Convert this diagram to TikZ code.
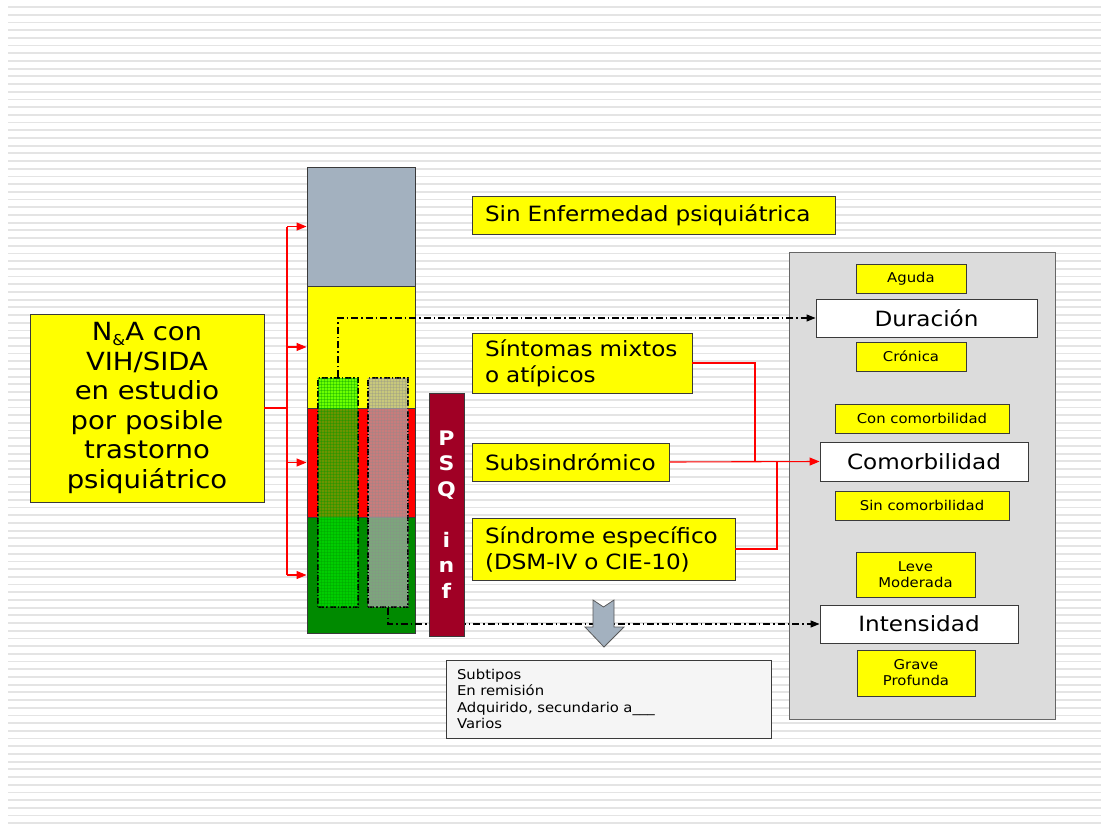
\documentclass[tikz,border=0pt]{standalone}
\usepackage{fontspec}
\setmainfont{DejaVu Sans}[FakeStretch=1.1]
\usetikzlibrary{arrows.meta,patterns}
\pgfdeclarelayer{fg}
\pgfsetlayers{main,fg}
\definecolor{ylw}{HTML}{FFFF00}
\definecolor{slate}{HTML}{A3B1BF}
\definecolor{colred}{HTML}{FF0000}
\definecolor{colgreen}{HTML}{008A00}
\definecolor{maroon}{HTML}{A00025}
\definecolor{panel}{HTML}{DCDCDC}
\definecolor{stripe}{HTML}{E4E4E4}
\definecolor{edge}{HTML}{3A3A3A}
\tikzset{
  box/.style={draw=edge, line width=0.9pt, inner sep=0pt, text=black},
  ybox/.style={box, fill=ylw},
  wbox/.style={box, fill=white, font=\fontsize{21}{24}\selectfont},
  small/.style={ybox, font=\fontsize{13.5}{16}\selectfont, align=center},
  seg/.style={box, minimum width=108, line width=0.9pt},
  hbar/.style={draw=black, line width=1.4pt, dash pattern=on 6pt off 2pt on 1.5pt off 2pt, minimum width=40, minimum height=229, inner sep=0pt},
  redline/.style={draw=colred, line width=1.1pt},
  redarr/.style={redline, -{Triangle[length=10pt,width=8pt]}},
  dd/.style={draw=black, line width=1.1pt, dash pattern=on 7pt off 3pt on 1.5pt off 3pt},
  ddarr/.style={dd, -{Triangle[length=9pt,width=7pt]}},
}
\begin{document}
\begin{tikzpicture}[x=1pt,y=-1pt]
\useasboundingbox[fill=white] (0,0) rectangle (1101,825);
% background stripes
\foreach \i in {0,...,106}{
  \draw[stripe, line width=1.8pt] (8,{7+7.7*\i}) -- (1101,{7+7.7*\i});
}
% left box
\node[ybox, minimum width=234, minimum height=188, align=center,
      font=\fontsize{25}{29.6}\selectfont] (na) at (147,408)
  {N\raisebox{-0.35ex}{\fontsize{15}{15}\selectfont\&}A con\\VIH/SIDA\\en estudio\\por posible\\trastorno\\psiqui\'atrico};
% column segments
\node[seg, fill=slate, minimum height=119] (gtop) at (361,226.5) {};
\node[seg, fill=ylw, minimum height=122] (yseg) at (361,347) {};
\node[seg, fill=colred, minimum height=109] (rseg) at (361,462.5) {};
\node[seg, fill=colgreen, minimum height=116] (gseg) at (361,575) {};
% hatched bars
\node[hbar, fill=green, fill opacity=0.58] (gbar) at (338,492.5) {};
\fill[pattern=grid, pattern color=green!60!black, opacity=0.35] (gbar.north west) rectangle (gbar.south east);
\node[hbar, fill=black!30, fill opacity=0.7] (gybar) at (388,492.5) {};
\fill[pattern=grid, pattern color=black!45, opacity=0.3] (gybar.north west) rectangle (gybar.south east);
% PSQ inf
\begin{pgfonlayer}{fg}
\node[box, fill=maroon, minimum width=35, minimum height=243, text=white, align=center,
      font=\fontsize{20}{25.5}\selectfont\bfseries] (psq) at (446.5,514.5)
  {P\\S\\Q\\[25.5pt]i\\n\\f};
% down arrow
\draw[fill=slate, draw=black!65, line width=0.8pt]
  (593,600) -- (603.5,607) -- (614,600) -- (614,627) -- (624,627) -- (604,647)
  -- (585,627) -- (593,627) -- cycle;
\end{pgfonlayer}
% right yellow boxes
\node[ybox, minimum height=38, text width=337, inner xsep=13, align=left,
      font=\fontsize{21}{26}\selectfont] (sinenf) at (653.5,215) {Sin Enfermedad psiqui\'atrica};
\node[ybox, minimum height=60, text width=194, inner xsep=13, align=left,
      font=\fontsize{21}{26}\selectfont] (sint) at (582,363) {S\'intomas mixtos\\o at\'ipicos};
\node[ybox, minimum height=38, text width=171, inner xsep=13, align=left,
      font=\fontsize{21}{26}\selectfont] (sub) at (570.5,462) {Subsindr\'omico};
\node[ybox, minimum height=62, text width=237, inner xsep=13, align=left,
      font=\fontsize{21}{26}\selectfont] (sind) at (603.5,549) {S\'indrome espec\'ifico\\(DSM-IV o CIE-10)};
% panel
\node[box, fill=panel, draw=black!60, minimum width=266, minimum height=467] (panel) at (922,485.5) {};
\node[small, minimum width=110, minimum height=29] (aguda) at (911,278.5) {Aguda};
\node[wbox, minimum width=221, minimum height=38] (dur) at (926.5,318) {Duraci\'on};
\node[small, minimum width=110, minimum height=29] (cron) at (911,356.5) {Cr\'onica};
\node[small, minimum width=174, minimum height=29] (conc) at (922,418.5) {Con comorbilidad};
\node[wbox, minimum width=208, minimum height=39] (comor) at (924,461.5) {Comorbilidad};
\node[small, minimum width=174, minimum height=29] (sinc) at (922,505.5) {Sin comorbilidad};
\node[small, minimum width=119, minimum height=45] (leve) at (915.5,574.5) {Leve\\Moderada};
\node[wbox, minimum width=198, minimum height=38] (inten) at (919,624) {Intensidad};
\node[small, minimum width=118, minimum height=46] (grave) at (916,673) {Grave\\Profunda};
% bottom box
\node[box, fill=black!4, minimum height=78, text width=303, inner xsep=11, align=left,
      font=\fontsize{13.5}{16.5}\selectfont] (sub2) at (608.5,699)
  {Subtipos\\En remisi\'on\\Adquirido, secundario a\_\_\_\\Varios};
% red connectors left
\coordinate (bus) at (287,408);
\draw[redline] (na.east) -- (bus);
\draw[redline] (bus |- gtop.west) -- (bus |- gseg.west);
\draw[redarr] (bus |- gtop.west) -- (gtop.west);
\draw[redarr] (bus |- yseg.west) -- (yseg.west);
\draw[redarr] (bus |- rseg.west) -- (rseg.west);
\draw[redarr] (bus |- gseg.west) -- (gseg.west);
% dash-dot connectors
\draw[ddarr] (gbar.north) |- (dur.west);
\draw[ddarr] (gybar.south) |- (inten.west);
% red connectors right
\coordinate (j1) at (755,462);
\coordinate (j2) at (777,462);
\draw[redline] (sint.east) -| (j1);
\draw[redline] (sind.east) -| (j2);
\draw[redarr] (sub.east) -- (comor.west);
\end{tikzpicture}
\end{document}
